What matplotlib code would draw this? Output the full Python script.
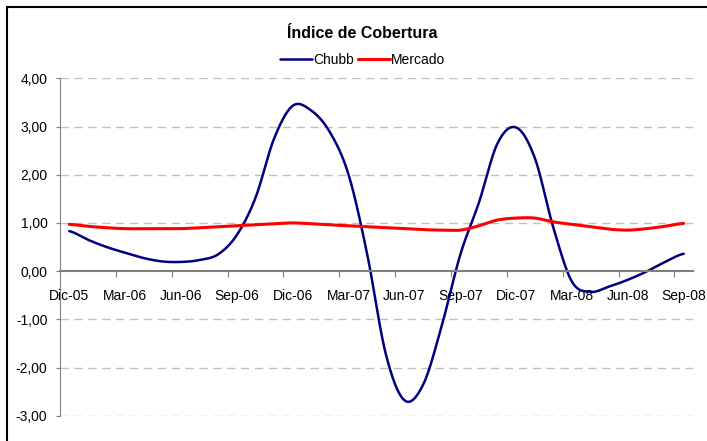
import numpy as np
import matplotlib.pyplot as plt
from matplotlib import font_manager
from matplotlib.patches import Rectangle
from matplotlib.ticker import FuncFormatter, FixedLocator

names = {f.name for f in font_manager.fontManager.ttflist}
if 'Liberation Sans Narrow' in names:
    plt.rcParams['font.family'] = ['Liberation Sans Narrow', 'DejaVu Sans']
    fs = 11
else:
    plt.rcParams['font.family'] = ['Liberation Sans', 'DejaVu Sans']
    plt.rcParams['font.stretch'] = 'condensed'
    fs = 10

months = ["Dic-05", "Ene-06", "Feb-06", "Mar-06", "Abr-06", "May-06", "Jun-06",
          "Jul-06", "Ago-06", "Sep-06", "Oct-06", "Nov-06", "Dic-06", "Ene-07",
          "Feb-07", "Mar-07", "Abr-07", "May-07", "Jun-07", "Jul-07", "Ago-07",
          "Sep-07", "Oct-07", "Nov-07", "Dic-07", "Ene-08", "Feb-08", "Mar-08",
          "Abr-08", "May-08", "Jun-08", "Jul-08", "Ago-08", "Sep-08"]

chubb = [0.83, 0.65, 0.50, 0.38, 0.27, 0.20, 0.19, 0.23, 0.35, 0.75, 1.52, 2.75,
         3.43, 3.33, 2.88, 2.00, 0.35, -1.72, -2.68, -2.36, -1.14, 0.34, 1.42,
         2.65, 2.98, 2.35, 0.90, -0.22, -0.43, -0.32, -0.18, -0.01, 0.19, 0.36]

mercado = [0.97, 0.93, 0.90, 0.88, 0.88, 0.88, 0.88, 0.90, 0.92, 0.94, 0.96, 0.98,
           1.00, 0.98, 0.96, 0.94, 0.92, 0.90, 0.88, 0.86, 0.85, 0.85, 0.94, 1.06,
           1.10, 1.10, 1.02, 0.97, 0.92, 0.87, 0.85, 0.88, 0.93, 0.99]

y_ticks = [-3, -2, -1, 0, 1, 2, 3, 4]


def smooth(vals, n=24):
    # excel-style smoothed line (catmull-rom through the points)
    y = np.asarray(vals, float)
    p = np.concatenate([[y[0]], y, [y[-1]]])
    xs, ys = [], []
    t = np.linspace(0, 1, n, endpoint=False)
    for i in range(len(y) - 1):
        p0, p1, p2, p3 = p[i], p[i + 1], p[i + 2], p[i + 3]
        ys.append(0.5 * (2 * p1 + (-p0 + p2) * t + (2 * p0 - 5 * p1 + 4 * p2 - p3) * t ** 2
                         + (-p0 + 3 * p1 - 3 * p2 + p3) * t ** 3))
        xs.append(i + t)
    xs.append([len(y) - 1])
    ys.append([y[-1]])
    return np.concatenate(xs), np.concatenate(ys)


fig = plt.figure(figsize=(7.07, 4.41), dpi=100)
ax = fig.add_axes([60 / 707, 1 - 415.7 / 441, (693 - 60) / 707, (415.7 - 78.3) / 441])

x = np.arange(len(months))
sx, sy = smooth(chubb)
ax.plot(sx, sy, color='#000080', lw=1.8, label='Chubb', solid_capstyle='round')
sx, sy = smooth(mercado)
ax.plot(sx, sy, color='#ff0000', lw=2.2, label='Mercado', solid_capstyle='round')

ax.set_xlim(-0.5, len(months) - 0.5)
ax.set_ylim(-3, 4)

for yv in y_ticks:
    if yv != 0:
        ax.axhline(yv, color='#c0c0c0', lw=1, ls=(0, (6, 4)), zorder=0)

for s in ['top', 'right']:
    ax.spines[s].set_visible(False)
ax.spines['left'].set_color('#808080')
ax.spines['bottom'].set_position(('data', 0))
ax.spines['bottom'].set_color('#808080')
ax.spines['bottom'].set_linewidth(1.5)

ax.set_yticks(y_ticks)
ax.yaxis.set_major_formatter(FuncFormatter(lambda v, p: f"{v:.2f}".replace('.', ',')))
ax.tick_params(axis='y', length=3, color='#808080', labelsize=fs, pad=6)

ax.xaxis.set_major_locator(FixedLocator(np.arange(2.5, len(months) - 1, 3)))
ax.xaxis.set_major_formatter(FuncFormatter(lambda v, p: ''))
ax.xaxis.set_minor_locator(FixedLocator(x[::3]))
ax.xaxis.set_minor_formatter(FuncFormatter(lambda v, p: months[int(round(v))]))
ax.tick_params(axis='x', which='major', length=4, color='#808080')
ax.tick_params(axis='x', which='minor', length=0, labelsize=fs, pad=13)

fig.text(0.513, 1 - 33 / 441, 'Índice de Cobertura', ha='center', va='center',
         fontsize=fs + 1.5, fontweight='bold')
fig.legend(loc='center', bbox_to_anchor=(0.513, 1 - 60 / 441), ncol=2, frameon=False,
           fontsize=fs, handlelength=2.3, handletextpad=0.1, columnspacing=0.3)

fig.patches.append(Rectangle((7 / 707, -0.1), 1.2, 1.1 - 7 / 441, transform=fig.transFigure,
                             fill=False, edgecolor='black', lw=1.5))

fig.savefig('out.png', dpi=100)
